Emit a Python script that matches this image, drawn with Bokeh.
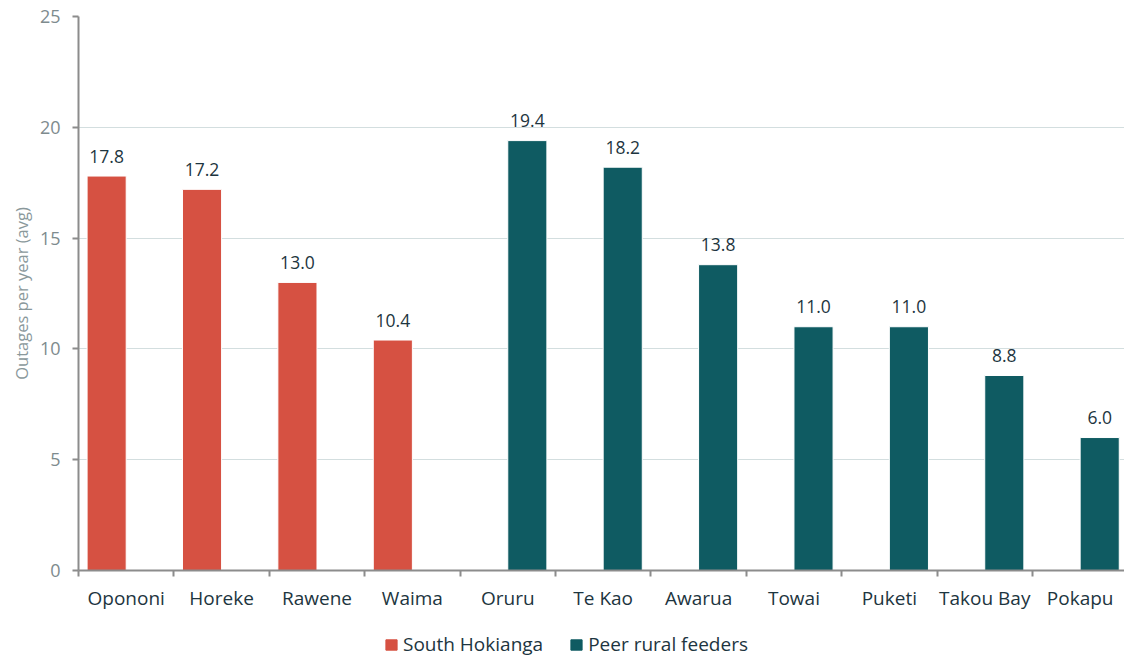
from bokeh.plotting import figure
from bokeh.layouts import column
from bokeh.models import ColumnDataSource, FixedTicker, Legend, LegendItem, Range1d
from bokeh.core.properties import value
from bokeh.embed import file_html
from bokeh.resources import INLINE

categories = ["Opononi", "Horeke", "Rawene", "Waima", "Oruru", "Te Kao", "Awarua",
              "Towai", "Puketi", "Takou Bay", "Pokapu"]
south_names = ["Opononi", "Horeke", "Rawene", "Waima"]
south_values = [17.8, 17.2, 13.0, 10.4]
peer_names = ["Oruru", "Te Kao", "Awarua", "Towai", "Puketi", "Takou Bay", "Pokapu"]
peer_values = [19.4, 18.2, 13.8, 11.0, 11.0, 8.8, 6.0]
series_names = ["South Hokianga", "Peer rural feeders"]
y_ticks = [0, 5, 10, 15, 20, 25]

RED = "#D65142"
TEAL = "#0F5B62"
TXT = "#1D3540"
GREY = "#7E8B8E"
FONT = "Open Sans"

pos = {c: i + 0.5 for i, c in enumerate(categories)}
BW = 0.41
OFF = 0.205

src_s = ColumnDataSource(dict(x=[pos[c] - OFF for c in south_names], top=south_values,
                              lab=[f"{v:.1f}" for v in south_values]))
src_p = ColumnDataSource(dict(x=[pos[c] + OFF for c in peer_names], top=peer_values,
                              lab=[f"{v:.1f}" for v in peer_values]))

p = figure(frame_width=1046, frame_height=554, output_backend="svg", toolbar_location=None,
           x_range=Range1d(0, 10.965), y_range=Range1d(0, 25),
           min_border_left=78, min_border_right=0, min_border_top=16, min_border_bottom=50)
p.outline_line_color = None
p.background_fill_color = "white"
p.border_fill_color = "white"

r1 = p.vbar(x="x", top="top", width=BW, source=src_s, fill_color=RED, line_color="white", line_width=1)
r2 = p.vbar(x="x", top="top", width=BW, source=src_p, fill_color=TEAL, line_color="white", line_width=1)

for src in (src_s, src_p):
    p.text(x="x", y="top", text="lab", source=src, text_align="center", text_baseline="alphabetic",
           y_offset=-20, text_font=value(FONT), text_font_size="17.5px", text_color=TXT)

# x axis
p.xaxis.ticker = FixedTicker(ticks=[pos[c] for c in categories],
                             minor_ticks=list(range(0, 12)))
p.xaxis.major_label_overrides = {pos[c]: c for c in categories}
p.xaxis.major_tick_out = 0
p.xaxis.major_tick_in = 0
p.xaxis.minor_tick_out = 6
p.xaxis.minor_tick_in = 0
p.xaxis.minor_tick_line_color = "#8C8C8C"
p.xaxis.minor_tick_line_width = 2
p.xaxis.axis_line_color = "#8C8C8C"
p.xaxis.axis_line_width = 2
p.xaxis.major_label_text_font = FONT
p.xaxis.major_label_text_font_size = "19px"
p.xaxis.major_label_text_color = TXT
p.xaxis.major_label_standoff = 8
p.xgrid.grid_line_color = None

# y axis
p.yaxis.ticker = FixedTicker(ticks=y_ticks)
p.yaxis.minor_tick_line_color = None
p.yaxis.major_tick_out = 6
p.yaxis.major_tick_in = 0
p.yaxis.major_tick_line_color = "#8C8C8C"
p.yaxis.major_tick_line_width = 2
p.yaxis.axis_line_color = "#8C8C8C"
p.yaxis.axis_line_width = 2
p.yaxis.major_label_text_font = FONT
p.yaxis.major_label_text_font_size = "18px"
p.yaxis.major_label_text_color = GREY
p.yaxis.major_label_standoff = 12
p.yaxis.axis_label = "Outages per year (avg)"
p.yaxis.axis_label_text_font = FONT
p.yaxis.axis_label_text_font_size = "16.5px"
p.yaxis.axis_label_text_font_style = "normal"
p.yaxis.axis_label_text_color = "#8A989B"
p.yaxis.axis_label_standoff = 4
p.ygrid.grid_line_color = "#D3DEDF"
p.ygrid.grid_line_width = 1

# legend strip (separate small figure below the chart)
lg = figure(frame_width=1124, frame_height=37, output_backend="svg", toolbar_location=None,
            x_range=Range1d(0, 1), y_range=Range1d(0, 1),
            min_border_left=0, min_border_right=0, min_border_top=0, min_border_bottom=0)
lg.axis.visible = False
lg.grid.grid_line_color = None
lg.outline_line_color = None
lg.border_fill_color = "white"
d1 = lg.vbar(x=[-5], top=[-5], width=0.1, fill_color=RED, line_color=RED, line_width=1)
d2 = lg.vbar(x=[-5], top=[-5], width=0.1, fill_color=TEAL, line_color=TEAL, line_width=1)

legend = Legend(items=[LegendItem(label=series_names[0], renderers=[d1]),
                       LegendItem(label=series_names[1], renderers=[d2])],
                orientation="horizontal", location=(384, 0))
legend.label_text_font = FONT
legend.label_text_font_size = "19px"
legend.label_text_color = TXT
legend.glyph_width = 14
legend.glyph_height = 13
legend.label_height = 20
legend.spacing = 26
legend.label_standoff = 5
legend.border_line_color = None
legend.background_fill_alpha = 0
legend.padding = 0
legend.margin = 0
lg.add_layout(legend, "center")

open("out.html", "w").write(file_html(column(p, lg, spacing=0), INLINE))
